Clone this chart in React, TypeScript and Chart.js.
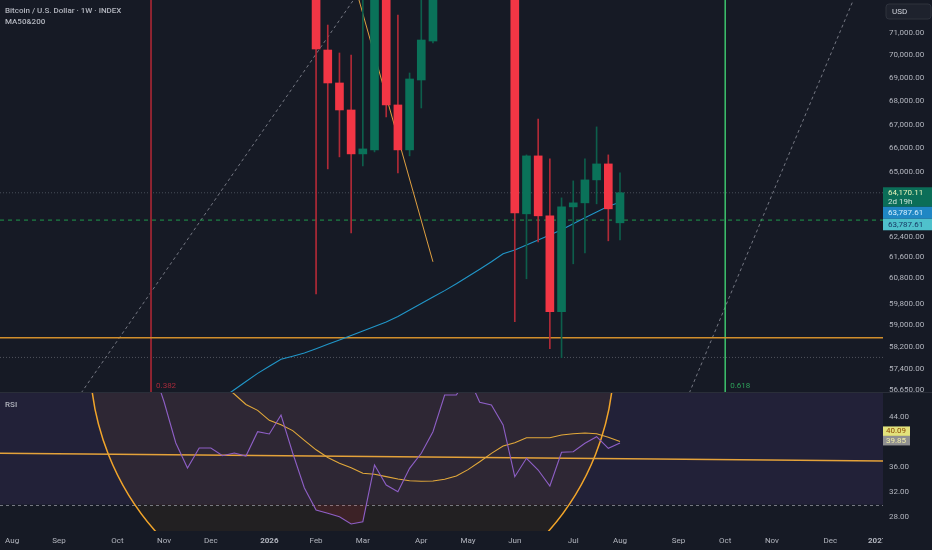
import React, { useEffect, useRef } from "react";
import { Chart, registerables } from "chart.js";

Chart.register(...registerables);

// ---------------- data ----------------
// week index: 0 = week of 3 Aug 2026 (current, still forming weekly candle)
const CANDLE_WEEKS = [-26, -25, -24, -23, -22, -21, -20, -19, -18, -17, -16, -9, -8, -7, -6, -5, -4, -3, -2, -1, 0];
const OPEN = [73600, 70240, 68790, 67624, 65769, 65936, 73100, 67839, 65936, 68920, 70641, 73800, 63320, 65686, 63240, 59514, 63600, 63762, 64696, 65353, 62961];
const HIGH = [74200, 71360, 70108, 70019, 72900, 73600, 73400, 71813, 69226, 72800, 73500, 74500, 65728, 67240, 65562, 63963, 64655, 65562, 66903, 65728, 64983];
const LOW = [60190, 65148, 65645, 62557, 65271, 65852, 67326, 64983, 65686, 67710, 70552, 59139, 60769, 62208, 58138, 57807, 61348, 61777, 63721, 62247, 62287];
const CLOSE = [70285, 68790, 67624, 65769, 65977, 73200, 67839, 65936, 68964, 70686, 73000, 63360, 65686, 63240, 59514, 63600, 63762, 64696, 65353, 63520, 64170.11];

const MA_START_WEEK = -34;
const MA_VALUES = [56353, 56646, 56941, 57237, 57498, 57749, 57859, 57978, 58138, 58300, 58462, 58629, 58796, 58964, 59132, 59339, 59583, 59825, 60072, 60315, 60575, 60854, 61140, 61426, 61738, 61890, 62086, 62283, 62480, 62690, 62924, 63160, 63392, 63624, 63787.61];

const RSI_START_WEEK = -40;
const RSI_VALUES = [52.0, 46.4, 39.84, 35.84, 39.04, 39.04, 37.81, 38.24, 37.76, 41.65, 41.28, 44.32, 38.24, 32.64, 29.12, 28.59, 28.05, 26.88, 27.25, 36.32, 33.12, 32.05, 35.79, 38.19, 41.65, 47.52, 47.52, 50.5, 46.35, 45.92, 42.72, 34.45, 37.39, 35.52, 32.96, 38.35, 38.45, 39.79, 40.85, 38.99, 39.85];

const RSI_MA_START_WEEK = -34;
const RSI_MA_VALUES = [49.2, 47.68, 46.0, 45.06, 43.47, 42.75, 41.82, 40.27, 38.75, 37.52, 36.59, 35.87, 35.01, 34.83, 34.46, 34.08, 33.81, 33.71, 33.76, 34.03, 34.56, 35.58, 36.85, 38.18, 39.36, 39.89, 40.69, 40.69, 40.69, 41.12, 41.33, 41.44, 41.33, 40.75, 40.09];

const PRICE_TICKS = [71000, 70000, 69000, 68000, 67000, 66000, 65000, 62400, 61600, 60800, 59800, 59000, 58200, 57400, 56650];
const RSI_TICKS = [44, 36, 32, 28];
const TIME_TICK_WEEKS = [-52, -48, -43, -39, -35, -30, -26, -22, -17, -13, -9, -4, 0, 5, 9, 13, 18, 22];
const TIME_TICK_LABELS = ["Aug", "Sep", "Oct", "Nov", "Dec", "2026", "Feb", "Mar", "Apr", "May", "Jun", "Jul", "Aug", "Sep", "Oct", "Nov", "Dec", "2027"];

const LAST_PRICE = 64170.11;
const COUNTDOWN = "2d 19h";
const MA_LAST_LABELS = [63787.61, 63787.61];
const RSI_MA_LAST = 40.09;
const RSI_LAST = 39.85;

// drawings (in data coordinates: week index / price / RSI)
const FIB_WEEKS = [-40.12, 9.0];
const FIB_LABELS = ["0.382", "0.618"];
const SUPPORT_PRICE = 58542;
const DOTTED_PRICES = [64170.11, 57818];
const DASHED_PRICE = 63070;
const TREND_A_WEEKS = [-46.1, -22.8];
const TREND_A_PRICES = [56530, 72500];
const TREND_B_WEEKS = [5.93, 19.96];
const TREND_B_PRICES = [56530, 72500];
const TREND_C_WEEKS = [-22.33, -16.0];
const TREND_C_PRICES = [72500, 61426];
const RSI_TREND_WEEKS = [-53.04, 22.5];
const RSI_TREND_VALUES = [38.19, 36.96];
const RSI_CIRCLE_CENTER = [-22.93, 53.44];
const RSI_CIRCLE_RADII = [22.41, 41.92];
const RSI_BAND = [30, 70];

// ---------------- view ----------------
const W = 932;
const H = 550;
const X_MIN = -53.04;
const X_MAX = 22.5;
const PRICE_MIN = 56530;
const PRICE_MAX = 72500;
const RSI_MIN = 25.76;
const RSI_MAX = 47.84;

const BG = "#161a25";
const TEXT = "#b2b5be";
const FONT = "Roboto, 'Noto Sans', sans-serif";
const UP = "#0a7259";
const DOWN = "#f23645";
const UP_WICK = "#0d5e4b";
const DOWN_WICK = "#b02a37";

const fmt = (v: number) =>
  Number(v).toLocaleString("en-US", { minimumFractionDigits: 2, maximumFractionDigits: 2 });

const seg = (xs: number[], ys: number[]) => xs.map((x, i) => ({ x, y: ys[i] }));

function lineDs(data: any[], yAxisID: string, color: string, width: number, dash: number[] = [], order = 5) {
  return {
    type: "line",
    data,
    yAxisID,
    xAxisID: "x",
    borderColor: color,
    borderWidth: width,
    borderDash: dash,
    pointRadius: 0,
    fill: false,
    tension: 0,
    order,
  };
}

function roundRect(ctx: CanvasRenderingContext2D, x: number, y: number, w: number, h: number, r: number) {
  ctx.beginPath();
  ctx.moveTo(x + r, y);
  ctx.lineTo(x + w - r, y);
  ctx.quadraticCurveTo(x + w, y, x + w, y + r);
  ctx.lineTo(x + w, y + h - r);
  ctx.quadraticCurveTo(x + w, y + h, x + w - r, y + h);
  ctx.lineTo(x + r, y + h);
  ctx.quadraticCurveTo(x, y + h, x, y + h - r);
  ctx.lineTo(x, y + r);
  ctx.quadraticCurveTo(x, y, x + r, y);
  ctx.closePath();
}

const bgPlugin = {
  id: "bg",
  beforeDraw(chart: any) {
    const { ctx } = chart;
    ctx.save();
    ctx.fillStyle = BG;
    ctx.fillRect(0, 0, chart.width, chart.height);
    ctx.restore();
  },
};

const paneBgPlugin = {
  id: "paneBg",
  beforeDatasetsDraw(chart: any) {
    const { ctx, chartArea } = chart;
    const xs = chart.scales.x;
    const rs = chart.scales.rsi;
    ctx.save();
    ctx.beginPath();
    ctx.rect(chartArea.left, rs.top, chartArea.right - chartArea.left, rs.bottom - rs.top);
    ctx.clip();
    // RSI band 30..70
    const bTop = Math.max(rs.top, rs.getPixelForValue(RSI_BAND[1]));
    const bBot = rs.getPixelForValue(RSI_BAND[0]);
    ctx.fillStyle = "rgba(126,87,194,0.12)";
    ctx.fillRect(chartArea.left, bTop, chartArea.right - chartArea.left, bBot - bTop);
    // circle drawing
    const cx = xs.getPixelForValue(RSI_CIRCLE_CENTER[0]);
    const cy = rs.getPixelForValue(RSI_CIRCLE_CENTER[1]);
    const rx = xs.getPixelForValue(RSI_CIRCLE_CENTER[0] + RSI_CIRCLE_RADII[0]) - cx;
    const ry = cy - rs.getPixelForValue(RSI_CIRCLE_CENTER[1] + RSI_CIRCLE_RADII[1]);
    ctx.beginPath();
    ctx.ellipse(cx, cy, rx, ry, 0, 0, Math.PI * 2);
    ctx.fillStyle = "rgba(255,152,0,0.055)";
    ctx.fill();
    // 30 level
    ctx.beginPath();
    ctx.setLineDash([3, 3]);
    ctx.strokeStyle = "rgba(149,152,161,0.75)";
    ctx.lineWidth = 1;
    ctx.moveTo(chartArea.left, Math.round(bBot) + 0.5);
    ctx.lineTo(chartArea.right, Math.round(bBot) + 0.5);
    ctx.stroke();
    ctx.setLineDash([]);
    ctx.beginPath();
    ctx.ellipse(cx, cy, rx, ry, 0, 0, Math.PI * 2);
    ctx.strokeStyle = "#f2a52a";
    ctx.lineWidth = 1.5;
    ctx.stroke();
    ctx.restore();
  },
};

const paneClipPlugin = {
  id: "paneClip",
  beforeDatasetDraw(chart: any, args: any) {
    const meta = chart.getDatasetMeta(args.index);
    const ys = meta.yScale;
    const { ctx, chartArea } = chart;
    ctx.save();
    ctx.beginPath();
    ctx.rect(chartArea.left, ys.top, chartArea.right - chartArea.left, ys.bottom - ys.top);
    ctx.clip();
  },
  afterDatasetDraw(chart: any) {
    chart.ctx.restore();
  },
};

const overlayPlugin = {
  id: "overlay",
  afterDraw(chart: any) {
    const { ctx, chartArea } = chart;
    const xs = chart.scales.x;
    const ps = chart.scales.y;
    const rs = chart.scales.rsi;
    ctx.save();
    ctx.textBaseline = "middle";

    // pane separator
    ctx.fillStyle = "#2a2e39";
    ctx.fillRect(0, Math.round(rs.top) - 1, W, 1);

    // legends
    ctx.fillStyle = TEXT;
    ctx.textAlign = "left";
    ctx.font = `500 8px ${FONT}`;
    ctx.fillText("Bitcoin / U.S. Dollar · 1W · INDEX", 5, 11);
    ctx.fillText("MA50&200", 5, 22);
    ctx.fillText("RSI", 5, rs.top + 12);

    // fib time labels
    ctx.font = `8px ${FONT}`;
    const fibColors = ["#a52a3a", "#2ea05a"];
    FIB_WEEKS.forEach((w, i) => {
      ctx.fillStyle = fibColors[i];
      ctx.fillText(FIB_LABELS[i], xs.getPixelForValue(w) + 5, ps.bottom - 7);
    });

    // time axis labels
    ctx.save();
    ctx.beginPath();
    ctx.rect(0, chartArea.bottom, chartArea.right, H - chartArea.bottom);
    ctx.clip();
    ctx.textAlign = "center";
    ctx.fillStyle = TEXT;
    TIME_TICK_WEEKS.forEach((w, i) => {
      const lab = TIME_TICK_LABELS[i];
      ctx.font = /^\d+$/.test(lab) ? `bold 8px ${FONT}` : `8px ${FONT}`;
      ctx.fillText(lab, xs.getPixelForValue(w), chartArea.bottom + 9.5);
    });
    ctx.restore();

    // USD box
    roundRect(ctx, 886, 4, 45, 15, 3);
    ctx.fillStyle = "#1e222d";
    ctx.fill();
    ctx.strokeStyle = "#2e323d";
    ctx.lineWidth = 1;
    ctx.stroke();
    ctx.fillStyle = "#d1d4dc";
    ctx.textAlign = "left";
    ctx.font = `8px ${FONT}`;
    ctx.fillText("USD", 892, 11.5);

    // price badges
    const ax = chartArea.right;
    const aw = W - ax;
    const yClose = ps.getPixelForValue(LAST_PRICE);
    const gTop = yClose - 5.5;
    ctx.fillStyle = "#0b6e58";
    ctx.fillRect(ax, gTop, aw, 19.5);
    ctx.fillStyle = "#e4f2b8";
    ctx.fillText(fmt(LAST_PRICE), ax + 5, gTop + 5.5);
    ctx.fillStyle = "#cfe6da";
    ctx.fillText(COUNTDOWN, ax + 5, gTop + 14.5);
    const bTop = gTop + 19.5;
    ctx.fillStyle = "#1f87c4";
    ctx.fillRect(ax, bTop, aw, 12);
    ctx.fillStyle = "#d6efff";
    ctx.fillText(fmt(MA_LAST_LABELS[0]), ax + 5, bTop + 6);
    const tTop = bTop + 12;
    ctx.fillStyle = "#4fc1cc";
    ctx.fillRect(ax, tTop, aw, 11.5);
    ctx.fillStyle = "#173a66";
    ctx.fillText(fmt(MA_LAST_LABELS[1]), ax + 5, tTop + 6);

    // RSI badges
    const yR = rs.getPixelForValue(RSI_LAST);
    const grTop = yR - 7;
    const ylTop = grTop - 9.5;
    ctx.fillStyle = "#e3e27c";
    ctx.fillRect(ax, ylTop, 27, 9.5);
    ctx.fillStyle = "#8a4b06";
    ctx.fillText(RSI_MA_LAST.toFixed(2), ax + 3, ylTop + 5);
    ctx.fillStyle = "#8f8f91";
    ctx.fillRect(ax, grTop, 27, 9.5);
    ctx.fillStyle = "#f1eea8";
    ctx.fillText(RSI_LAST.toFixed(2), ax + 3, grTop + 5);

    ctx.restore();
  },
};

const fitRight = (s: any) => {
  s.width = 49;
  s.paddingTop = 0;
  s.paddingBottom = 0;
  s.paddingLeft = 0;
  s.paddingRight = 0;
};

export default function App() {
  const ref = useRef<HTMLCanvasElement>(null);

  useEffect(() => {
    const canvas = ref.current;
    if (!canvas) return;

    const up = (i: number) => CLOSE[i] >= OPEN[i];
    const bodies = CANDLE_WEEKS.map((w, i) => ({ x: w, y: [OPEN[i], CLOSE[i]] }));
    const wicks = CANDLE_WEEKS.map((w, i) => ({ x: w, y: [LOW[i], HIGH[i]] }));
    const ma = MA_VALUES.map((v, i) => ({ x: MA_START_WEEK + i, y: v }));
    const rsi = RSI_VALUES.map((v, i) => ({ x: RSI_START_WEEK + i, y: v }));
    const rsiMa = RSI_MA_VALUES.map((v, i) => ({ x: RSI_MA_START_WEEK + i, y: v }));

    const datasets: any[] = [
      {
        type: "bar",
        data: bodies,
        yAxisID: "y",
        xAxisID: "x",
        backgroundColor: CANDLE_WEEKS.map((_, i) => (up(i) ? UP : DOWN)),
        borderWidth: 0,
        barThickness: 8,
        grouped: false,
        minBarLength: 1,
        order: 0,
      },
      {
        type: "bar",
        data: wicks,
        yAxisID: "y",
        xAxisID: "x",
        backgroundColor: CANDLE_WEEKS.map((_, i) => (up(i) ? UP_WICK : DOWN_WICK)),
        borderWidth: 0,
        barThickness: 1,
        grouped: false,
        order: 1,
      },
      lineDs(ma, "y", "#2196c8", 1.1, [], 2),
      // price pane drawings
      lineDs(seg([FIB_WEEKS[0], FIB_WEEKS[0]], [PRICE_MIN, PRICE_MAX]), "y", "#8f2431", 2, [], 6),
      lineDs(seg([FIB_WEEKS[1], FIB_WEEKS[1]], [PRICE_MIN, PRICE_MAX]), "y", "#3ec46d", 1.5, [], 6),
      lineDs(seg([X_MIN, X_MAX], [SUPPORT_PRICE, SUPPORT_PRICE]), "y", "#d18e2c", 1.6, [], 5),
      lineDs(seg([X_MIN, X_MAX], [DOTTED_PRICES[0], DOTTED_PRICES[0]]), "y", "rgba(110,120,130,0.55)", 1, [1, 2], 7),
      lineDs(seg([X_MIN, X_MAX], [DOTTED_PRICES[1], DOTTED_PRICES[1]]), "y", "rgba(120,123,134,0.6)", 1, [1, 2], 7),
      lineDs(seg([X_MIN, X_MAX], [DASHED_PRICE, DASHED_PRICE]), "y", "#1f9a4c", 1, [4, 4], 7),
      lineDs(seg(TREND_A_WEEKS, TREND_A_PRICES), "y", "rgba(140,143,154,0.8)", 1, [3, 3], 7),
      lineDs(seg(TREND_B_WEEKS, TREND_B_PRICES), "y", "rgba(140,143,154,0.8)", 1, [3, 3], 7),
      lineDs(seg(TREND_C_WEEKS, TREND_C_PRICES), "y", "#e0a040", 1, [], 5),
      // RSI pane
      lineDs(seg(RSI_TREND_WEEKS, RSI_TREND_VALUES), "rsi", "#e4a23a", 1.4, [], 9),
      {
        ...lineDs(rsi, "rsi", "#8e5fc6", 1.1, [], 3),
        fill: { target: { value: 30 }, above: "rgba(0,0,0,0)", below: "rgba(242,54,69,0.13)" },
      },
      lineDs(rsiMa, "rsi", "#e3a93a", 1.1, [], 4),
    ];

    const tickFont = { family: FONT, size: 8 };

    const chart = new Chart(canvas, {
      type: "bar",
      data: { datasets },
      options: {
        animation: false,
        responsive: false,
        maintainAspectRatio: false,
        events: [],
        layout: { padding: 0 },
        plugins: { legend: { display: false }, tooltip: { enabled: false } },
        scales: {
          x: {
            type: "linear",
            min: X_MIN,
            max: X_MAX,
            bounds: "data",
            offset: false,
            grid: { display: false, drawTicks: false },
            border: { display: false },
            ticks: { display: false },
            afterFit: (s: any) => {
              s.height = 19;
              s.paddingLeft = 0;
              s.paddingRight = 0;
              s.paddingTop = 0;
              s.paddingBottom = 0;
            },
          },
          y: {
            type: "logarithmic",
            position: "right",
            stack: "panes",
            stackWeight: 393,
            min: PRICE_MIN,
            max: PRICE_MAX,
            bounds: "data",
            grid: { display: false, drawTicks: false },
            border: { display: false },
            ticks: {
              color: TEXT,
              font: tickFont,
              padding: 6,
              autoSkip: false,
              callback: (v: any) => fmt(v),
            },
            afterBuildTicks: (s: any) => {
              s.ticks = PRICE_TICKS.map((v) => ({ value: v }));
            },
            afterFit: fitRight,
          },
          rsi: {
            type: "linear",
            position: "right",
            stack: "panes",
            stackWeight: 138,
            min: RSI_MIN,
            max: RSI_MAX,
            bounds: "data",
            grid: { display: false, drawTicks: false },
            border: { display: false },
            ticks: {
              color: TEXT,
              font: tickFont,
              padding: 6,
              autoSkip: false,
              callback: (v: any) => Number(v).toFixed(2),
            },
            afterBuildTicks: (s: any) => {
              s.ticks = RSI_TICKS.map((v) => ({ value: v }));
            },
            afterFit: fitRight,
          },
        },
      } as any,
      plugins: [bgPlugin, paneBgPlugin, paneClipPlugin, overlayPlugin],
    } as any);

    return () => chart.destroy();
  }, []);

  return (
    <div style={{ position: "absolute", left: 0, top: 0, width: W, height: H, background: BG, overflow: "hidden" }}>
      <canvas ref={ref} width={W} height={H} style={{ display: "block", width: W, height: H }} />
    </div>
  );
}
